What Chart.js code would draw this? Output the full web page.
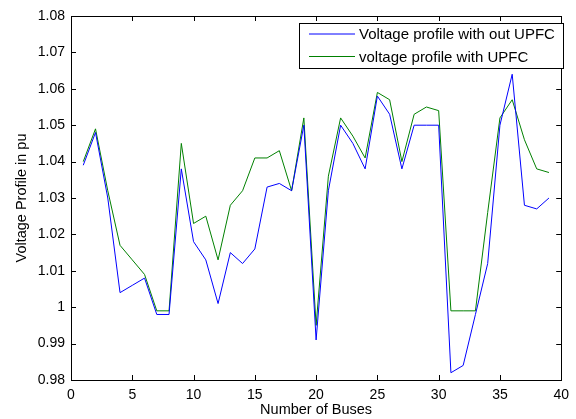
<!DOCTYPE html>
<html>
<head>
<meta charset="utf-8">
<script src="https://cdn.jsdelivr.net/npm/chart.js@4/dist/chart.umd.min.js"></script>
<style>
  html, body { margin: 0; padding: 0; background: #fff; }
  #wrap { width: 576px; height: 419px; }
</style>
</head>
<body>
<div id="wrap"><canvas id="voltChart"></canvas></div>
<script>
// bus numbers 1..39
const buses = [1, 2, 3, 4, 5, 6, 7, 8, 9, 10, 11, 12, 13, 14, 15, 16, 17, 18, 19, 20,
               21, 22, 23, 24, 25, 26, 27, 28, 29, 30, 31, 32, 33, 34, 35, 36, 37, 38, 39];

const withoutUpfc = [1.039, 1.048, 1.030, 1.004, 1.006, 1.008, 0.998, 0.998, 1.038, 1.018,
                     1.013, 1.001, 1.015, 1.012, 1.016, 1.033, 1.034, 1.032, 1.050, 0.991,
                     1.032, 1.050, 1.045, 1.038, 1.058, 1.053, 1.038, 1.050, 1.050, 1.050,
                     0.982, 0.984, 0.998, 1.012, 1.050, 1.064, 1.028, 1.027, 1.030];

const withUpfc = [1.040, 1.049, 1.032, 1.017, 1.013, 1.009, 0.999, 0.999, 1.045, 1.023,
                  1.025, 1.013, 1.028, 1.032, 1.041, 1.041, 1.043, 1.032, 1.052, 0.995,
                  1.036, 1.052, 1.047, 1.041, 1.059, 1.057, 1.040, 1.053, 1.055, 1.054,
                  0.999, 0.999, 0.999, 1.026, 1.052, 1.057, 1.046, 1.038, 1.037];

const xTicks = [0, 5, 10, 15, 20, 25, 30, 35, 40];
const yTicks = [0.98, 0.99, 1, 1.01, 1.02, 1.03, 1.04, 1.05, 1.06, 1.07, 1.08];

const FONT = 'Arial, "Liberation Sans", sans-serif';

// matlab style box, inward ticks and legend inside the axes
const matlabBox = {
    id: 'matlabBox',
    afterDraw(chart) {
        const { ctx, chartArea: a, scales } = chart;
        const tl = 5;
        ctx.save();
        ctx.strokeStyle = '#000';
        ctx.lineWidth = 1;
        ctx.beginPath();
        xTicks.forEach(v => {
            const x = Math.round(scales.x.getPixelForValue(v)) + 0.5;
            ctx.moveTo(x, a.bottom); ctx.lineTo(x, a.bottom - tl);
            ctx.moveTo(x, a.top); ctx.lineTo(x, a.top + tl);
        });
        yTicks.forEach(v => {
            const y = Math.round(scales.y.getPixelForValue(v)) + 0.5;
            ctx.moveTo(a.left, y); ctx.lineTo(a.left + tl, y);
            ctx.moveTo(a.right, y); ctx.lineTo(a.right - tl, y);
        });
        ctx.stroke();
        ctx.strokeRect(Math.round(a.left) + 0.5, Math.round(a.top) + 0.5,
                       Math.round(a.right - a.left), Math.round(a.bottom - a.top));

        // legend
        const lx = 299.5, ly = 23.5, lw = 264, lh = 45;
        ctx.fillStyle = '#fff';
        ctx.fillRect(lx, ly, lw, lh);
        ctx.strokeRect(lx, ly, lw, lh);
        ctx.font = '15px ' + FONT;
        ctx.textBaseline = 'middle';
        chart.data.datasets.forEach((ds, i) => {
            const y = 34 + i * 22.5;
            ctx.strokeStyle = ds.borderColor;
            ctx.beginPath();
            ctx.moveTo(309, y); ctx.lineTo(355, y);
            ctx.stroke();
            ctx.fillStyle = '#000';
            ctx.fillText(ds.label, 359, y + 1);
        });
        ctx.restore();
    }
};

new Chart(document.getElementById('voltChart'), {
    type: 'line',
    data: {
        labels: buses,
        datasets: [{
            label: 'Voltage profile with out UPFC',
            data: withoutUpfc,
            borderColor: '#0000ff',
            borderWidth: 1,
            pointRadius: 0,
            tension: 0
        }, {
            label: 'voltage profile with UPFC',
            data: withUpfc,
            borderColor: '#008000',
            borderWidth: 1,
            pointRadius: 0,
            tension: 0
        }]
    },
    options: {
        responsive: true,
        maintainAspectRatio: false,
        animation: false,
        events: [],
        layout: { padding: { top: 16, right: 9, left: 0, bottom: 0 } },
        plugins: {
            legend: { display: false },
            tooltip: { enabled: false }
        },
        scales: {
            x: {
                type: 'linear',
                min: 0,
                max: 40,
                afterBuildTicks: s => { s.ticks = xTicks.map(v => ({ value: v })); },
                afterFit: s => { s.height = 39; },
                grid: { display: false, drawTicks: false },
                border: { display: false },
                ticks: { color: '#000', padding: 7, maxRotation: 0, font: { family: FONT, size: 14 } },
                title: {
                    display: true,
                    text: 'Number of Buses',
                    color: '#000',
                    padding: { top: 0, bottom: 0 },
                    font: { family: FONT, size: 14.5 }
                }
            },
            y: {
                min: 0.98,
                max: 1.08,
                afterBuildTicks: s => { s.ticks = yTicks.map(v => ({ value: v })); },
                afterFit: s => { s.width = 71; },
                grid: { display: false, drawTicks: false },
                border: { display: false },
                ticks: {
                    color: '#000',
                    padding: 6,
                    font: { family: FONT, size: 14 },
                    callback: v => String(Math.round(v * 100) / 100)
                },
                title: {
                    display: true,
                    text: 'Voltage Profile in pu',
                    color: '#000',
                    padding: { top: 13, bottom: 0 },
                    font: { family: FONT, size: 14.5 }
                }
            }
        }
    },
    plugins: [matlabBox]
});
</script>
</body>
</html>
